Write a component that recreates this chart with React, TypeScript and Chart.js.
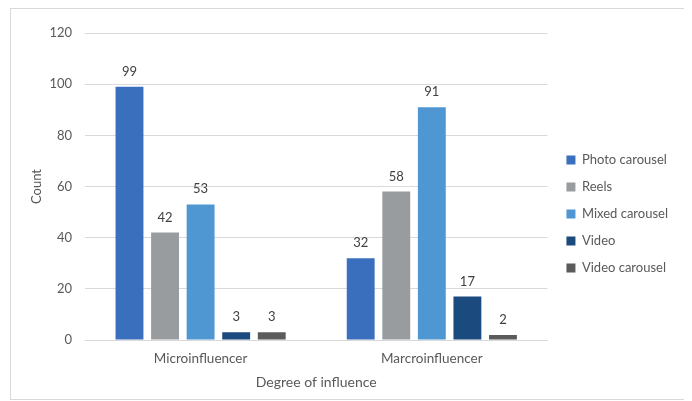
import React, { useEffect, useRef } from "react";
import { Chart, registerables } from "chart.js";

Chart.register(...registerables);

const categories = ["Microinfluencer", "Marcroinfluencer"];
const seriesNames = ["Photo carousel", "Reels", "Mixed carousel", "Video", "Video carousel"];
const photoCarousel = [99, 32];
const reels = [42, 58];
const mixedCarousel = [53, 91];
const video = [3, 17];
const videoCarousel = [3, 2];
const yTicks = [0, 20, 40, 60, 80, 100, 120];

const seriesValues = [photoCarousel, reels, mixedCarousel, video, videoCarousel];
const seriesColors = ["#3a6fbd", "#999c9e", "#4f97d3", "#1b4a7e", "#5b5b5b"];

const FONT = "Lato, 'Open Sans', sans-serif";
const TEXT = "#595959";

const valueLabels = {
  id: "valueLabels",
  afterDatasetsDraw(chart: any) {
    const { ctx } = chart;
    ctx.save();
    ctx.font = `13px ${FONT}`;
    ctx.fillStyle = "#404040";
    ctx.textAlign = "center";
    ctx.textBaseline = "alphabetic";
    chart.data.datasets.forEach((ds: any, i: number) => {
      const meta = chart.getDatasetMeta(i);
      meta.data.forEach((el: any, j: number) => {
        ctx.fillText(String(ds.data[j]), el.x, el.y - 11);
      });
    });
    ctx.restore();
  },
};

const legendShift = {
  id: "legendShift",
  afterLayout(chart: any) {
    const l = chart.legend;
    if (!l) return;
    const dx = chart.chartArea.right + 5 - l.left;
    l.left += dx;
    l.right += dx;
    l.top += 2;
    l.bottom += 2;
  },
};

export default function App() {
  const ref = useRef<HTMLCanvasElement | null>(null);
  useEffect(() => {
    document.documentElement.style.overflow = "hidden";
    if (!ref.current) return;
    const chart = new Chart(ref.current, {
      type: "bar",
      data: {
        labels: categories,
        datasets: seriesNames.map((name, i) => ({
          label: name,
          data: seriesValues[i],
          backgroundColor: seriesColors[i],
          borderWidth: 0,
          categoryPercentage: 0.769,
          barPercentage: 0.784,
        })),
      },
      options: {
        animation: false,
        responsive: true,
        maintainAspectRatio: false,
        layout: { padding: { top: 24, bottom: 8, left: 0, right: 20 } },
        plugins: {
          tooltip: { enabled: false },
          legend: {
            position: "right",
            labels: {
              boxWidth: 9,
              boxHeight: 9,
              padding: 14,
              color: TEXT,
              font: { family: FONT, size: 13 },
            },
          },
        },
        scales: {
          x: {
            afterFit(scale: any) {
              scale.height = 51;
            },
            grid: { display: false, drawTicks: false },
            border: { display: true, color: "#d9d9d9" },
            ticks: { color: TEXT, font: { family: FONT, size: 13.5 }, padding: 11 },
            title: {
              display: true,
              text: "Degree of influence",
              color: TEXT,
              font: { family: FONT, size: 14 },
              padding: { top: 0, bottom: 0 },
            },
          },
          y: {
            min: 0,
            max: 120,
            afterBuildTicks(scale: any) {
              scale.ticks = yTicks.map((v) => ({ value: v }));
            },
            afterFit(scale: any) {
              scale.width = 74;
            },
            grid: { color: "#d9d9d9", drawTicks: false },
            border: { display: false },
            ticks: { color: TEXT, font: { family: FONT, size: 13 }, padding: 13 },
            title: {
              display: true,
              text: "Count",
              color: TEXT,
              font: { family: FONT, size: 13 },
              padding: { top: 18, bottom: 0 },
            },
          },
        },
      },
      plugins: [valueLabels, legendShift],
    });
    return () => chart.destroy();
  }, []);
  return (
    <div
      style={{
        marginLeft: 2,
        width: 684,
        height: 392,
        border: "1px solid #d9d9d9",
        boxSizing: "border-box",
        position: "relative",
      }}
    >
      <canvas ref={ref} />
    </div>
  );
}
